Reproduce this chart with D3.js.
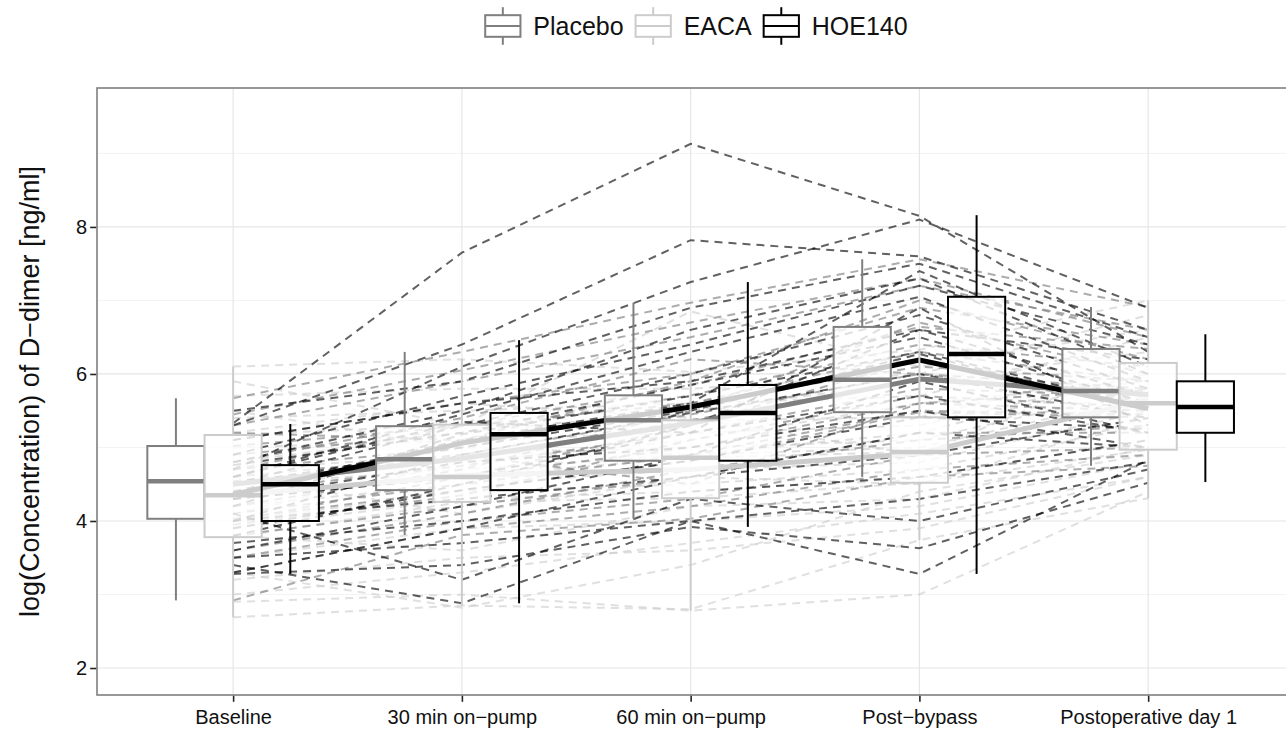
<!DOCTYPE html>
<html><head><meta charset="utf-8">
<script src="https://cdn.jsdelivr.net/npm/d3@7"></script>
<style>
body{margin:0;background:#fff}
svg{display:block}
text{font-family:"Liberation Sans",Arial,Helvetica,sans-serif}
</style>
</head><body>
<svg id="chart" width="1286" height="738"></svg>
<script>
// ---------- data ----------
const timepoints = ["Baseline", "30 min on\u2212pump", "60 min on\u2212pump", "Post\u2212bypass", "Postoperative day 1"];
const groups = ["Placebo", "EACA", "HOE140"];
const yTicks = [2, 4, 6, 8];
const yMinorTicks = [3, 5, 7, 9];

// box statistics per time point: [lower whisker, q1, median, q3, upper whisker]
const placeboBoxes = [
  [2.92, 4.03, 4.54, 5.02, 5.67],
  [3.81, 4.42, 4.84, 5.29, 6.30],
  [4.03, 4.82, 5.37, 5.71, 6.97],
  [4.60, 5.48, 5.92, 6.64, 7.56],
  [4.75, 5.41, 5.77, 6.34, 6.91]
];
const eacaBoxes = [
  [2.69, 3.78, 4.35, 5.17, 6.10],
  [2.85, 4.26, 4.60, 5.31, 6.20],
  [2.78, 4.31, 4.86, 5.37, 6.03],
  [3.74, 4.52, 4.94, 5.41, 6.33],
  [4.31, 4.97, 5.60, 6.15, 7.00]
];
const hoeBoxes = [
  [3.28, 4.00, 4.50, 4.76, 5.32],
  [2.88, 4.42, 5.18, 5.47, 6.46],
  [3.92, 4.82, 5.47, 5.85, 7.25],
  [3.28, 5.41, 6.27, 7.05, 8.16],
  [4.53, 5.20, 5.55, 5.90, 6.54]
];

// group mean trajectories
const placeboMeans = [4.50, 4.85, 5.33, 5.93, 5.72];
const eacaMeans    = [4.35, 4.62, 4.70, 4.92, 5.65];
const hoeMeans     = [4.36, 5.06, 5.55, 6.19, 5.53];

// individual patients: [baseline, 30 min, 60 min, post-bypass, day 1]
const placeboPatients = [
  [5.67, 6.30, 6.97, 7.56, 6.91],
  [5.30, 5.90, 6.50, 7.20, 6.60],
  [5.10, 5.60, 6.00, 6.90, 6.40],
  [5.02, 5.29, 5.85, 6.64, 6.34],
  [4.90, 5.20, 5.71, 6.40, 6.10],
  [4.70, 5.00, 5.60, 6.10, 5.90],
  [4.60, 4.90, 5.45, 6.00, 5.80],
  [4.54, 4.84, 5.37, 5.92, 5.77],
  [4.40, 4.75, 5.20, 5.80, 5.70],
  [4.30, 4.60, 5.00, 5.60, 5.50],
  [4.10, 4.50, 4.90, 5.50, 5.45],
  [4.03, 4.42, 4.82, 5.48, 5.41],
  [3.80, 4.20, 4.60, 5.20, 5.20],
  [3.50, 4.00, 4.30, 4.90, 5.00],
  [2.92, 3.81, 4.03, 4.60, 4.75],
  [4.80, 5.40, 6.20, 6.00, 5.60],
  [4.20, 4.70, 5.50, 6.70, 6.00],
  [5.45, 6.05, 6.70, 7.30, 6.50],
  [3.95, 4.35, 5.10, 5.70, 5.55],
  [5.20, 5.10, 5.90, 7.00, 6.20],
  [4.70, 5.30, 5.60, 6.30, 5.90],
  [4.00, 4.60, 5.30, 6.20, 5.60],
  [3.60, 4.10, 4.70, 5.10, 5.30],
  [4.50, 4.90, 4.50, 5.60, 5.80],
  [3.30, 3.90, 4.20, 4.70, 4.90]
];
const eacaPatients = [
  [6.10, 6.20, 6.03, 6.33, 7.00],
  [5.70, 5.80, 5.80, 6.00, 6.80],
  [5.40, 5.50, 5.60, 5.70, 6.50],
  [5.17, 5.31, 5.37, 5.41, 6.15],
  [5.00, 5.10, 5.20, 5.30, 6.00],
  [4.70, 4.90, 5.00, 5.10, 5.80],
  [4.50, 4.70, 4.90, 5.00, 5.70],
  [4.35, 4.60, 4.86, 4.94, 5.60],
  [4.20, 4.50, 4.70, 4.80, 5.50],
  [4.00, 4.40, 4.50, 4.70, 5.30],
  [3.90, 4.30, 4.40, 4.60, 5.10],
  [3.78, 4.26, 4.31, 4.52, 4.97],
  [3.50, 3.90, 4.00, 4.20, 4.80],
  [3.20, 3.50, 3.60, 3.90, 4.60],
  [2.69, 2.85, 2.80, 3.74, 4.31],
  [2.90, 3.00, 2.78, 3.00, 4.40],
  [4.80, 5.20, 5.50, 5.90, 6.30],
  [5.90, 5.30, 6.85, 6.10, 6.60],
  [3.30, 2.82, 3.40, 4.40, 4.90],
  [5.50, 5.00, 4.90, 5.20, 6.00],
  [4.60, 4.10, 4.60, 4.50, 5.40],
  [3.80, 3.60, 4.20, 4.30, 5.00],
  [5.20, 5.60, 5.40, 4.90, 6.20],
  [4.10, 4.80, 5.10, 5.60, 5.90],
  [3.00, 3.30, 3.70, 4.10, 4.60]
];
const hoePatients = [
  [5.33, 7.65, 9.13, 8.15, 6.30],
  [5.30, 6.40, 7.82, 7.60, 6.60],
  [4.70, 6.10, 7.25, 8.10, 6.90],
  [5.50, 5.90, 6.90, 7.50, 6.50],
  [4.80, 5.50, 6.60, 7.30, 6.00],
  [4.60, 5.45, 6.30, 7.05, 5.90],
  [4.50, 5.30, 6.00, 6.80, 5.80],
  [4.76, 5.20, 5.85, 6.50, 5.60],
  [4.20, 5.18, 5.70, 6.30, 5.55],
  [4.50, 5.00, 5.50, 6.27, 5.50],
  [4.00, 4.90, 5.47, 6.00, 5.40],
  [4.30, 4.60, 5.20, 5.70, 5.20],
  [3.90, 4.42, 4.82, 5.41, 5.25],
  [4.00, 4.30, 4.60, 5.20, 5.00],
  [3.70, 4.00, 4.40, 4.60, 5.10],
  [3.50, 3.70, 4.00, 4.30, 4.80],
  [3.28, 3.40, 3.92, 3.63, 4.52],
  [3.40, 2.88, 4.00, 3.28, 4.83],
  [4.10, 3.20, 4.30, 4.00, 4.70],
  [5.10, 5.60, 5.90, 6.60, 6.20],
  [4.90, 5.70, 6.40, 7.20, 6.40],
  [4.40, 5.10, 5.60, 7.40, 6.10],
  [3.80, 4.50, 5.30, 6.60, 5.70],
  [4.60, 5.35, 5.20, 6.90, 5.30],
  [3.60, 4.20, 4.90, 5.90, 5.20],
  [4.30, 4.80, 5.00, 5.50, 5.00],
  [3.30, 3.90, 4.60, 4.90, 5.40]
];

// ---------- styles ----------
const groupColors = ["#7f7f7f", "#cccccc", "#000000"];
const boxData = [placeboBoxes, eacaBoxes, hoeBoxes];
const meanData = [placeboMeans, eacaMeans, hoeMeans];
const patientData = [placeboPatients, eacaPatients, hoePatients];

const panel = {left: 97, top: 88, right: 1290, bottom: 695};
const svg = d3.select("#chart");

const x = d3.scaleLinear().domain([0.405, 5.62]).range([panel.left, panel.right]);
const y = d3.scaleLinear().domain([1.633, 9.89]).range([panel.bottom, panel.top]);

const dodge = 0.25, boxW = 0.25;

svg.append("rect").attr("x", panel.left).attr("y", panel.top)
  .attr("width", panel.right - panel.left).attr("height", panel.bottom - panel.top)
  .attr("fill", "#fff");

svg.append("clipPath").attr("id", "clip").append("rect")
  .attr("x", panel.left).attr("y", panel.top)
  .attr("width", panel.right - panel.left).attr("height", panel.bottom - panel.top);

const grid = svg.append("g");
grid.selectAll("line.minor").data(yMinorTicks).join("line")
  .attr("x1", panel.left).attr("x2", panel.right)
  .attr("y1", d => y(d)).attr("y2", d => y(d))
  .attr("stroke", "#f3f3f3").attr("stroke-width", 1);
grid.selectAll("line.majy").data(yTicks).join("line")
  .attr("x1", panel.left).attr("x2", panel.right)
  .attr("y1", d => y(d)).attr("y2", d => y(d))
  .attr("stroke", "#e6e6e6").attr("stroke-width", 1.2);
grid.selectAll("line.majx").data(d3.range(1, timepoints.length + 1)).join("line")
  .attr("y1", panel.top).attr("y2", panel.bottom)
  .attr("x1", d => x(d)).attr("x2", d => x(d))
  .attr("stroke", "#e6e6e6").attr("stroke-width", 1.2);

const plot = svg.append("g").attr("clip-path", "url(#clip)");

// individual patient lines
const line = d3.line().x((d, i) => x(i + 1)).y(d => y(d));
const patientOrder = [1, 0, 2];
const patientOpacity = [0.65, 0.6, 0.62];
patientOrder.forEach(gi => {
  plot.append("g").selectAll("path").data(patientData[gi]).join("path")
    .attr("d", line)
    .attr("fill", "none")
    .attr("stroke", groupColors[gi])
    .attr("stroke-opacity", patientOpacity[gi])
    .attr("stroke-width", 2)
    .attr("stroke-dasharray", "8,6");
});

// group mean lines
[1, 0, 2].forEach(gi => {
  plot.append("path").datum(meanData[gi])
    .attr("d", line)
    .attr("fill", "none")
    .attr("stroke", groupColors[gi])
    .attr("stroke-width", 5)
    .attr("stroke-linejoin", "round");
});

// boxplots
timepoints.forEach((t, ti) => {
  groups.forEach((g, gi) => {
    const s = boxData[gi][ti];
    const c = ti + 1 + (gi - 1) * dodge;
    const col = groupColors[gi];
    const bg = plot.append("g");
    bg.append("line").attr("x1", x(c)).attr("x2", x(c))
      .attr("y1", y(s[0])).attr("y2", y(s[1]))
      .attr("stroke", col).attr("stroke-width", 2);
    bg.append("line").attr("x1", x(c)).attr("x2", x(c))
      .attr("y1", y(s[3])).attr("y2", y(s[4]))
      .attr("stroke", col).attr("stroke-width", 2);
    bg.append("rect")
      .attr("x", x(c - boxW / 2)).attr("width", x(c + boxW / 2) - x(c - boxW / 2))
      .attr("y", y(s[3])).attr("height", y(s[1]) - y(s[3]))
      .attr("fill", "#fff").attr("fill-opacity", 0.8)
      .attr("stroke", col).attr("stroke-width", 2);
    bg.append("line")
      .attr("x1", x(c - boxW / 2)).attr("x2", x(c + boxW / 2))
      .attr("y1", y(s[2])).attr("y2", y(s[2]))
      .attr("stroke", col).attr("stroke-width", 4.5);
  });
});

// panel border
svg.append("rect").attr("x", panel.left).attr("y", panel.top)
  .attr("width", panel.right - panel.left).attr("height", panel.bottom - panel.top)
  .attr("fill", "none").attr("stroke", "#7f7f7f").attr("stroke-width", 1.6);

// axes
const yAxis = svg.append("g").attr("transform", `translate(${panel.left - 0.8},0)`)
  .call(d3.axisLeft(y).tickValues(yTicks).tickSize(6).tickPadding(3).tickFormat(d3.format("d")));
yAxis.select(".domain").remove();
yAxis.selectAll(".tick line").attr("stroke", "#222").attr("stroke-width", 1.6);
yAxis.selectAll(".tick text").attr("fill", "#111").style("font-size", "20px")
  .style("font-family", '"Liberation Sans", Arial, sans-serif');

const xAxis = svg.append("g").attr("transform", `translate(0,${panel.bottom + 0.8})`)
  .call(d3.axisBottom(x).tickValues(d3.range(1, timepoints.length + 1))
    .tickSize(6).tickPadding(8).tickFormat((d, i) => timepoints[i]));
xAxis.select(".domain").remove();
xAxis.selectAll(".tick line").attr("stroke", "#222").attr("stroke-width", 1.6);
xAxis.selectAll(".tick text").attr("fill", "#111").style("font-size", "20px")
  .style("font-family", '"Liberation Sans", Arial, sans-serif');

// y title
svg.append("text")
  .attr("transform", `translate(39,${(panel.top + panel.bottom) / 2}) rotate(-90)`)
  .attr("text-anchor", "middle")
  .style("font-size", "27px").attr("fill", "#111")
  .text("log(Concentration) of D\u2212dimer [ng/ml]");

// legend
const legend = svg.append("g");
const keyW = 47, keyH = 47, keyCy = 26, gapKT = 7, gapTK = 6;
const items = groups.map((g, gi) => {
  const t = legend.append("text").style("font-size", "25px").attr("fill", "#111")
    .attr("dominant-baseline", "central").attr("y", keyCy).text(g);
  return {g, gi, t, w: t.node().getComputedTextLength()};
});
const totalW = d3.sum(items, d => keyW + gapKT + d.w) + gapTK * (items.length - 1);
let cx0 = (panel.left + panel.right) / 2 - totalW / 2;
items.forEach(d => {
  const col = groupColors[d.gi];
  const k = legend.append("g").attr("transform", `translate(${cx0},${keyCy - keyH / 2})`);
  k.append("line").attr("x1", keyW / 2).attr("x2", keyW / 2).attr("y1", keyH * 0.1).attr("y2", keyH * 0.9)
    .attr("stroke", col).attr("stroke-width", 2);
  k.append("rect").attr("x", keyW * 0.125).attr("y", keyH * 0.27)
    .attr("width", keyW * 0.75).attr("height", keyH * 0.46)
    .attr("fill", "#fff").attr("stroke", col).attr("stroke-width", 2);
  k.append("line").attr("x1", keyW * 0.125).attr("x2", keyW * 0.875).attr("y1", keyH / 2).attr("y2", keyH / 2)
    .attr("stroke", col).attr("stroke-width", 2);
  d.t.attr("x", cx0 + keyW + gapKT);
  cx0 += keyW + gapKT + d.w + gapTK;
});
</script>
</body></html>
